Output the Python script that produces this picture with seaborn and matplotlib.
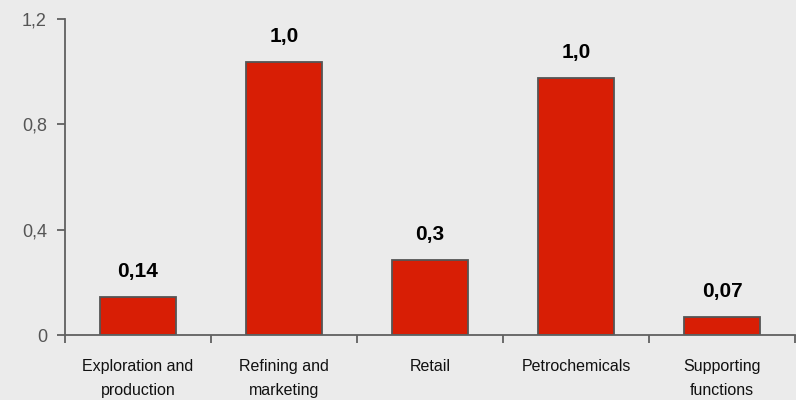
import matplotlib
matplotlib.use('Agg')
import matplotlib.pyplot as plt
import seaborn as sns
import pandas as pd
from matplotlib.ticker import FixedLocator, FuncFormatter

# Data
categories = ['Exploration and\nproduction', 'Refining and\nmarketing', 'Retail',
              'Petrochemicals', 'Supporting\nfunctions']
values = [0.144, 1.037, 0.285, 0.976, 0.068]
value_labels = ['0,14', '1,0', '0,3', '1,0', '0,07']
y_ticks = [0, 0.4, 0.8, 1.2]

df = pd.DataFrame({'segment': categories, 'value': values})

sns.set_style('white')
plt.rcParams['font.family'] = ['Liberation Sans', 'DejaVu Sans']

bg = '#ebebeb'
axis_col = '#606060'

fig = plt.figure(figsize=(7.96, 4.0), dpi=100, facecolor=bg)
ax = fig.add_axes([65 / 796, 1 - 335 / 400, 730 / 796, (335 - 19) / 400])
ax.set_facecolor(bg)

sns.barplot(data=df, x='segment', y='value', color='#d81e05', width=0.515,
            edgecolor='#555555', linewidth=1.3, saturation=1, ax=ax)

for i, (v, lab) in enumerate(zip(values, value_labels)):
    ax.text(i, v + 0.06, lab, ha='center', va='bottom', fontsize=15,
            fontweight='bold', color='black')

ax.set_xlim(-0.5, 4.5)
ax.set_ylim(0, 1.2)
ax.set_yticks(y_ticks)
ax.yaxis.set_major_formatter(FuncFormatter(lambda v, p: '0' if v == 0 else f'{v:.1f}'.replace('.', ',')))
ax.tick_params(axis='y', length=6, width=1.3, color=axis_col, labelsize=13,
               labelcolor='#555555', pad=7, left=True)
ax.tick_params(axis='x', which='major', length=0, labelsize=11.5, labelcolor='#111111', pad=17)
for t in ax.get_xticklabels():
    t.set_linespacing(1.75)
ax.xaxis.set_minor_locator(FixedLocator([-0.5, 0.5, 1.5, 2.5, 3.5, 4.5]))
ax.tick_params(axis='x', which='minor', length=6, width=1.3, color=axis_col, bottom=True)

ax.set_xlabel('')
ax.set_ylabel('')
for side in ['top', 'right']:
    ax.spines[side].set_visible(False)
for side in ['left', 'bottom']:
    ax.spines[side].set_color(axis_col)
    ax.spines[side].set_linewidth(1.3)

fig.savefig('out.png', dpi=100, facecolor=bg)
